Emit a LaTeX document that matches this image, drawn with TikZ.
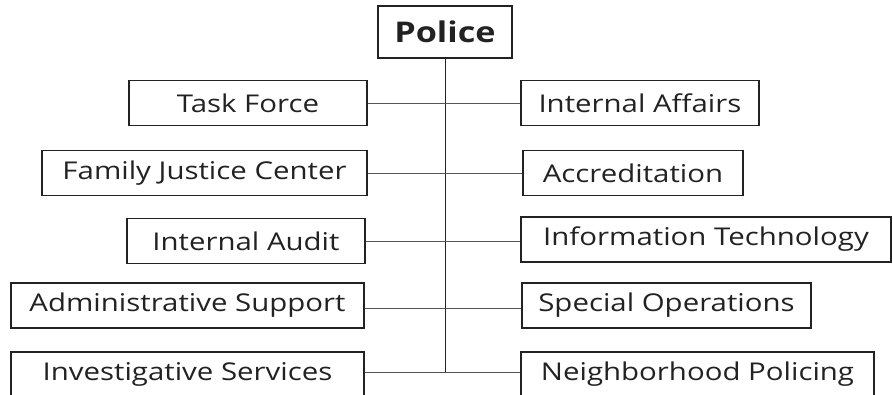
\documentclass[tikz,border=0pt]{standalone}
\usepackage{fontspec}
\setmainfont[FakeStretch=1.2]{Open Sans}
\definecolor{inkgray}{HTML}{222222}
\definecolor{linegray}{HTML}{555555}
\begin{document}
\begin{tikzpicture}[x=1pt,y=-1pt,
    unit/.style={draw=inkgray,line width=1.3pt,text=inkgray,inner sep=0pt,
      minimum height=45pt,font=\fontsize{24.5}{29}\selectfont},
    head/.style={unit,minimum height=52pt,minimum width=134pt,
      font=\fontsize{28.5}{34}\selectfont\bfseries},
    link/.style={draw=linegray,line width=0.9pt}]
    \path[use as bounding box] (0,0) rectangle (893,395);
    % Head
    \node[head] (police) at (445,32) {Police};

    % Left column
    \node[unit,minimum width=238pt] (tf) at (248,103) {Task Force};
    \node[unit,minimum width=325pt] (fjc) at (204.5,173) {Family Justice Center};
    \node[unit,minimum width=238pt] (iau) at (246,241) {Internal Audit};
    \node[unit,minimum width=353pt] (as) at (187.5,305.5) {Administrative Support};
    \node[unit,minimum width=353pt] (is) at (187.5,374.5) {Investigative Services};

    % Right column
    \node[unit,minimum width=238pt] (iaf) at (640,103) {Internal Affairs};
    \node[unit,minimum width=220pt] (acc) at (633,173) {Accreditation};
    \node[unit,minimum width=370pt] (it) at (706,239.5) {Information Technology};
    \node[unit,minimum width=289pt] (so) at (666.5,305.5) {Special Operations};
    \node[unit,minimum width=353pt] (np) at (697.5,374.5) {Neighborhood Policing};

    % Links
    \coordinate (trunk) at (445,372);
    \draw[link,draw=inkgray] (police.south) -- (trunk);
    \draw[link] (tf.east) -- (iaf.west);
    \draw[link] (fjc.east) -- (acc.west);
    \draw[link] (iau.east) -- (it.west |- iau.east);
    \draw[link] ([yshift=-3pt]as.east) -- ([yshift=-3pt]so.west);
    \draw[link] (is.east |- trunk) -- (np.west |- trunk);
  \end{tikzpicture}
\end{document}
